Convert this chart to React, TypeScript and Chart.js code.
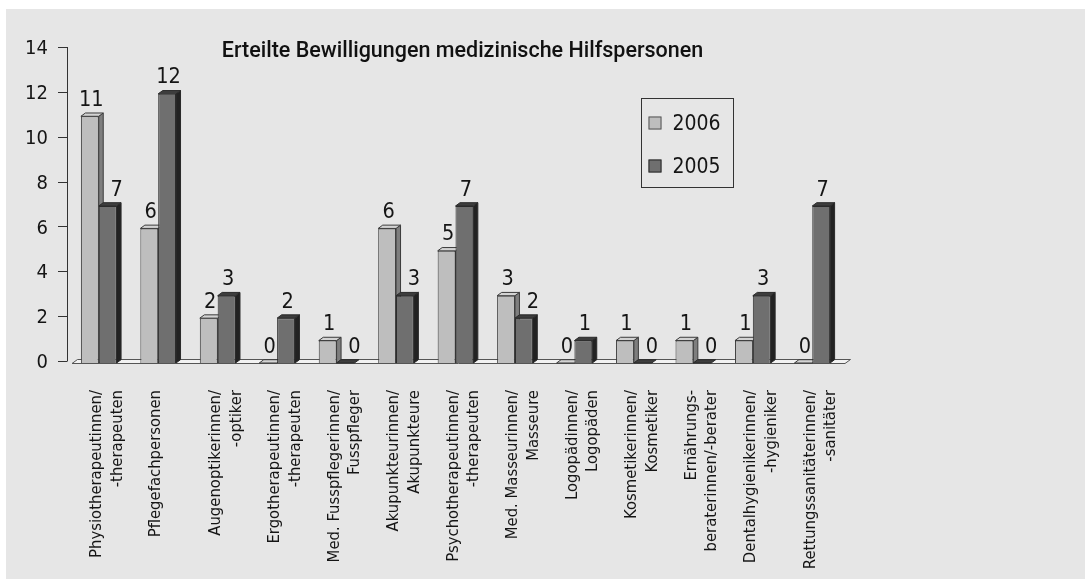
import { useEffect, useRef } from "react";
import { Chart, registerables } from "chart.js";

Chart.register(...registerables);

const chartTitle = "Erteilte Bewilligungen medizinische Hilfspersonen";

const categories: (string | string[])[] = [
  ["Physiotherapeutinnen/", "-therapeuten"],
  "Pflegefachpersonen",
  ["Augenoptikerinnen/", "-optiker"],
  ["Ergotherapeutinnen/", "-therapeuten"],
  ["Med. Fusspflegerinnen/", "Fusspfleger"],
  ["Akupunkteurinnen/", "Akupunkteure"],
  ["Psychotherapeutinnen/", "-therapeuten"],
  ["Med. Masseurinnen/", "Masseure"],
  ["Logopädinnen/", "Logopäden"],
  ["Kosmetikerinnen/", "Kosmetiker"],
  ["Ernährungs-", "beraterinnen/-berater"],
  ["Dentalhygienikerinnen/", "-hygieniker"],
  ["Rettungssanitäterinnen/", "-sanitäter"],
];

const seriesNames = ["2006", "2005"];
const values2006 = [11, 6, 2, 0, 1, 6, 5, 3, 0, 1, 1, 1, 0];
const values2005 = [7, 12, 3, 2, 0, 3, 7, 2, 1, 0, 0, 3, 7];

const yMin = 0;
const yMax = 14;
const yStep = 2;

const NARROW =
  '"Liberation Sans Narrow", "DejaVu Sans Condensed", "Arial Narrow", sans-serif';
const TITLE_FONT = '500 21.5px Roboto, "Liberation Sans", sans-serif';

const DX = 4.5;
const DY = 3.3;

const faces = [
  { front: "#bebebe", side: "#7e7e7e", top: "#d3d3d3", edge: "#3a3a3a", legendEdge: "#555" },
  { front: "#6f6f6f", side: "#222222", top: "#3d3d3d", edge: "#2a2a2a", legendEdge: "#2a2a2a" },
];

function poly(ctx: CanvasRenderingContext2D, pts: number[][], fill: string, stroke: string) {
  ctx.beginPath();
  ctx.moveTo(pts[0][0], pts[0][1]);
  for (let i = 1; i < pts.length; i++) ctx.lineTo(pts[i][0], pts[i][1]);
  ctx.closePath();
  ctx.fillStyle = fill;
  ctx.fill();
  ctx.strokeStyle = stroke;
  ctx.lineWidth = 1;
  ctx.stroke();
}

const threeDPlugin = {
  id: "threeD",
  beforeDatasetsDraw(chart: any) {
    const ctx: CanvasRenderingContext2D = chart.ctx;
    const area = chart.chartArea;
    const yScale = chart.scales.y;
    const base = yScale.getPixelForValue(0);
    ctx.save();
    // y axis line and ticks
    ctx.strokeStyle = "#333";
    ctx.lineWidth = 1;
    const ax = Math.round(area.left - 2) + 0.5;
    ctx.beginPath();
    ctx.moveTo(ax, yScale.getPixelForValue(yMax) - 2);
    ctx.lineTo(ax, base - 2);
    for (const t of yScale.ticks) {
      const py = Math.round(yScale.getPixelForValue(t.value) - 2) + 0.5;
      ctx.moveTo(area.left - 11, py);
      ctx.lineTo(ax, py);
    }
    ctx.stroke();
    // floor
    poly(
      ctx,
      [
        [area.left + 3, base + 0.5],
        [area.right + 3, base + 0.5],
        [area.right + 3 + DX + 1, base - 3.5],
        [area.left + 3 + DX + 1, base - 3.5],
      ],
      "#f2f2f2",
      "#555"
    );
    // 3D faces of bars
    const metas = [chart.getDatasetMeta(0), chart.getDatasetMeta(1)];
    const n = chart.data.labels.length;
    for (let i = 0; i < n; i++) {
      metas.forEach((meta: any, d: number) => {
        const el = meta.data[i];
        if (!el) return;
        const { x, y, base: b, width } = el.getProps(["x", "y", "base", "width"], true);
        const l = x - width / 2;
        const r = x + width / 2;
        const f = faces[d];
        if (b - y > 0.5) {
          poly(ctx, [[r, y], [r + DX, y - DY], [r + DX, b - DY], [r, b]], f.side, f.edge);
        }
        poly(ctx, [[l, y], [l + DX, y - DY], [r + DX, y - DY], [r, y]], f.top, f.edge);
      });
    }
    ctx.restore();
  },
  afterDatasetsDraw(chart: any) {
    const ctx: CanvasRenderingContext2D = chart.ctx;
    ctx.save();
    ctx.font = `21.5px ${NARROW}`;
    ctx.fillStyle = "#151515";
    ctx.textAlign = "center";
    ctx.textBaseline = "alphabetic";
    const ds = chart.data.datasets;
    ds.forEach((dataset: any, d: number) => {
      const meta = chart.getDatasetMeta(d);
      meta.data.forEach((el: any, i: number) => {
        const v = dataset.data[i];
        const { x, y } = el.getProps(["x", "y"], true);
        let off = 1.5;
        if (d === 1 && v < ds[0].data[i]) off = 9;
        ctx.fillText(String(v), x + off, y - 10.5);
      });
    });
    ctx.restore();
  },
  afterDraw(chart: any) {
    const ctx: CanvasRenderingContext2D = chart.ctx;
    const area = chart.chartArea;
    ctx.save();
    // title
    ctx.font = TITLE_FONT;
    ctx.fillStyle = "#111";
    ctx.textAlign = "center";
    ctx.textBaseline = "alphabetic";
    ctx.fillText(chartTitle, (area.left + area.right) / 2 + 7, 48);
    // legend
    const bx = 635.5, by = 89.5, bw = 92, bh = 89;
    ctx.strokeStyle = "#333";
    ctx.lineWidth = 1;
    ctx.strokeRect(bx, by, bw, bh);
    ctx.font = `21px ${NARROW}`;
    ctx.textAlign = "left";
    ctx.textBaseline = "middle";
    chart.data.datasets.forEach((dataset: any, d: number) => {
      const cy = by + 25 + d * 43;
      const f = faces[d];
      ctx.fillStyle = f.front;
      ctx.fillRect(bx + 7, cy - 7, 13, 13);
      ctx.strokeStyle = f.legendEdge;
      ctx.strokeRect(bx + 7.5, cy - 6.5, 12, 12);
      ctx.fillStyle = "#151515";
      ctx.fillText(dataset.label, bx + 31, cy + 1);
    });
    ctx.restore();
  },
};

export default function App() {
  const ref = useRef<HTMLCanvasElement>(null);
  useEffect(() => {
    const chart = new Chart(ref.current as HTMLCanvasElement, {
      type: "bar",
      data: {
        labels: categories,
        datasets: [
          {
            label: seriesNames[0],
            data: values2006,
            backgroundColor: faces[0].front,
            borderColor: faces[0].edge,
            borderWidth: 1,
            categoryPercentage: 0.6,
            barPercentage: 1,
          },
          {
            label: seriesNames[1],
            data: values2005,
            backgroundColor: faces[1].front,
            borderColor: faces[1].edge,
            borderWidth: 1,
            categoryPercentage: 0.6,
            barPercentage: 1,
          },
        ],
      },
      options: {
        responsive: false,
        animation: false,
        devicePixelRatio: 1,
        layout: { padding: { top: 40, right: 243, left: 0, bottom: 0 } },
        plugins: {
          legend: { display: false },
          title: { display: false },
          tooltip: { enabled: false },
        },
        scales: {
          x: {
            ticks: {
              autoSkip: false,
              maxRotation: 90,
              minRotation: 90,
              padding: 27,
              labelOffset: -2,
              color: "#151515",
              font: { family: NARROW, size: 16.5, lineHeight: 1.25 },
            },
            grid: { display: false, drawTicks: false },
            border: { display: false },
            afterFit: (s: any) => {
              s.height = 216;
            },
          },
          y: {
            min: yMin,
            max: yMax,
            ticks: {
              stepSize: yStep,
              padding: 21,
              color: "#151515",
              font: { family: NARROW, size: 20 },
            },
            grid: { display: false, drawTicks: false },
            border: { display: false },
            afterFit: (s: any) => {
              s.width = 63;
            },
          },
        },
      },
      plugins: [threeDPlugin],
    } as any);
    return () => chart.destroy();
  }, []);
  return (
    <div
      style={{
        position: "fixed",
        left: 6,
        top: 9,
        width: 1079,
        height: 570,
        background: "#e6e6e6",
      }}
    >
      <canvas ref={ref} width={1079} height={570} style={{ display: "block" }} />
    </div>
  );
}
